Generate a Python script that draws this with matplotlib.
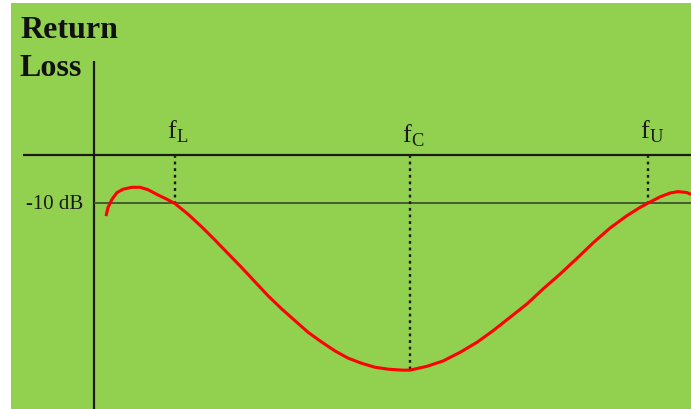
import matplotlib
matplotlib.use("Agg")
import matplotlib.pyplot as plt

# 반사손실 곡선 : 주파수(임의 단위), 반사손실(dB)
freq = [1.2, 1.4, 1.8, 2.3, 2.9, 3.8, 4.6, 5.4, 6.4, 7.3, 8.1, 9.4, 10.8,
        12.1, 13.4, 14.8, 16.1, 17.4, 18.8, 20.1, 21.4, 22.8, 24.1, 25.4,
        26.8, 28.1, 29.4, 30.8, 31.6, 33.3, 34.9, 36.6, 38.3, 39.9, 41.6,
        43.3, 44.9, 46.6, 48.3, 49.9, 51.6, 53.3, 54.6, 55.4, 56.6, 57.6,
        58.4, 59.3, 59.7]
loss = [-12.7, -10.9, -9.2, -7.8, -7.1, -6.7, -6.7, -7.2, -8.3, -9.2, -10.1,
        -12.3, -15.0, -17.7, -20.5, -23.5, -26.4, -29.3, -32.1, -34.5, -36.9,
        -39.0, -40.8, -42.3, -43.4, -44.2, -44.6, -44.8, -44.8, -44.0, -42.9,
        -41.1, -39.0, -36.6, -33.8, -31.0, -27.9, -24.8, -21.5, -18.3, -15.2,
        -12.6, -10.9, -10.0, -8.7, -7.9, -7.6, -7.8, -8.2]

# 기준 주파수와 기준 레벨
marker_names = ['L', 'C', 'U']
marker_freq = [8.1, 31.6, 55.4]
marker_loss = [-10.0, -44.8, -10.0]
ref_level = -10.0
ref_label = '-10 dB'

plt.rcParams['font.family'] = ['Liberation Serif', 'DejaVu Serif']
plt.rcParams['mathtext.fontset'] = 'custom'
plt.rcParams['mathtext.rm'] = 'Liberation Serif'

fig = plt.figure(figsize=(6.91, 4.10), dpi=100, facecolor='white')
ax = fig.add_axes([11 / 691, 0, 680 / 691, 406 / 410])
ax.set_facecolor('#92D050')
ax.set_xlim(-8.3, 59.7)
ax.set_ylim(-52.9, 31.7)
for s in ax.spines.values():
    s.set_visible(False)
ax.set_xticks([])
ax.set_yticks([])

# 축
ax.plot([-7.1, 59.7], [0, 0], color='#1a1a1a', lw=1.6, solid_capstyle='butt')
ax.plot([0, 0], [19.6, -52.9], color='#1a1a1a', lw=1.6, solid_capstyle='butt')

# -10 dB 기준선
ax.plot([0.1, 59.7], [ref_level, ref_level], color='#3f5530', lw=1.3)
ax.annotate(ref_label, xy=(0, ref_level), xytext=(-8, 0),
            textcoords='offset points', ha='right', va='center',
            fontsize=15, color='#1a1a1a')

# 점선과 라벨
for name, f, l in zip(marker_names, marker_freq, marker_loss):
    ax.plot([f, f], [0, l], color='#1a1a1a', lw=1.7,
            linestyle=(0, (1.2, 1.6)), dash_capstyle='butt')
    dy = 10 if name == 'C' else 12.5
    ax.annotate(r'$\mathrm{f}_{\mathrm{%s}}$' % name, xy=(f, 0),
                xytext=(-5.5, dy), textcoords='offset points',
                ha='left', va='baseline', fontsize=19, color='#1a1a1a')

# 반사손실 곡선
ax.plot(freq, loss, color='#ff0000', lw=2.2, solid_joinstyle='round',
        solid_capstyle='butt')

# 축 제목
fig.text(20 / 691, 1 - 38 / 410, 'Return', fontsize=23, fontweight='bold',
         ha='left', va='baseline', color='#111111')
fig.text(20 / 691, 1 - 76 / 410, 'Loss', fontsize=23, fontweight='bold',
         ha='left', va='baseline', color='#111111')

plt.savefig('out.png', dpi=100, facecolor='white')
